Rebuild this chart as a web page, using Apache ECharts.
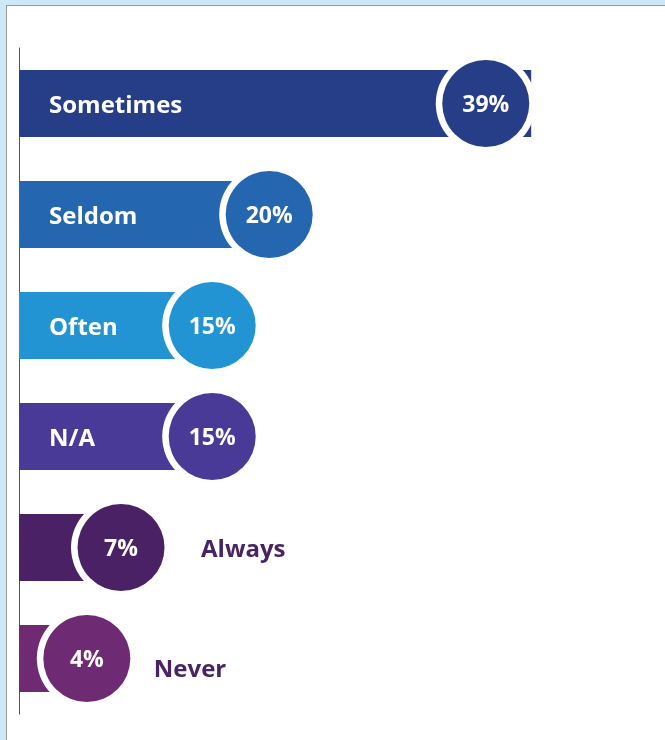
<!DOCTYPE html>
<html>
<head>
<meta charset="utf-8">
<script src="https://cdn.jsdelivr.net/npm/echarts@6/dist/echarts.min.js"></script>
<style>
html,body{margin:0;padding:0;width:665px;height:740px;overflow:hidden;background:#cde8f9;}
#panel{position:absolute;left:6px;top:5px;width:700px;height:800px;background:#fff;border-left:1px solid #9a9a9a;border-top:1px solid #9a9a9a;}
#chart{position:absolute;left:0;top:0;width:665px;height:740px;}
</style>
</head>
<body>
<div id="panel"></div>
<div id="chart"></div>
<script>
const categories = ['Sometimes', 'Seldom', 'Often', 'N/A', 'Always', 'Never'];
const values = [39, 20, 15, 15, 7, 4];
const barColors = ['#253e87', '#2566b0', '#2394d3', '#4a3a97', '#4a2165', '#6e2a73'];
const nameInside = [true, true, true, true, false, false];

const FONT = '"Open Sans", sans-serif';
const chart = echarts.init(document.getElementById('chart'), null, {renderer: 'canvas'});

const barData = values.map((v, i) => ({
  value: v,
  itemStyle: {color: barColors[i]},
  label: {show: nameInside[i]}
}));

const ringData = values.map((v, i) => {
  const d = {value: [v, categories[i]]};
  if (!nameInside[i]) {
    d.label = {
      show: true,
      position: 'right',
      distance: i === 4 ? 30 : 17,
      offset: [0, i === 5 ? 12 : 3],
      formatter: categories[i],
      color: '#4a2364',
      fontFamily: FONT,
      fontWeight: 'bold',
      fontSize: 24
    };
  }
  return d;
});

const dotData = values.map((v, i) => ({
  value: [v, categories[i]],
  itemStyle: {color: barColors[i]}
}));

chart.setOption({
  animation: false,
  backgroundColor: 'transparent',
  grid: {left: 19, right: 55, top: 48, bottom: 26, containLabel: false},
  xAxis: [
    {type: 'value', min: 0, max: 45, show: false},
    {type: 'value', min: -1.95, max: 49.9, show: false}
  ],
  yAxis: {
    type: 'category',
    data: categories,
    inverse: true,
    axisLine: {show: true, onZero: false, lineStyle: {color: '#555', width: 1}},
    axisTick: {show: false},
    axisLabel: {show: false},
    splitLine: {show: false}
  },
  series: [
    {
      type: 'bar',
      xAxisIndex: 0,
      barWidth: 67,
      data: barData,
      label: {
        show: true,
        position: 'insideLeft',
        distance: 30,
        offset: [0, 3],
        formatter: p => categories[p.dataIndex],
        color: '#fff',
        fontFamily: FONT,
        fontWeight: 'bold',
        fontSize: 24
      }
    },
    {
      type: 'scatter',
      xAxisIndex: 1,
      symbol: 'circle',
      symbolSize: 100,
      itemStyle: {color: '#fff', opacity: 1},
      data: ringData,
      label: {show: false},
      z: 3
    },
    {
      type: 'scatter',
      xAxisIndex: 1,
      symbol: 'circle',
      symbolSize: 87,
      data: dotData,
      itemStyle: {opacity: 1},
      label: {
        show: true,
        position: 'inside',
        offset: [0, 2],
        formatter: p => p.value[0] + '%',
        color: '#fff',
        fontFamily: FONT,
        fontWeight: 'bold',
        fontSize: 23
      },
      z: 4
    }
  ]
});
</script>
</body>
</html>
